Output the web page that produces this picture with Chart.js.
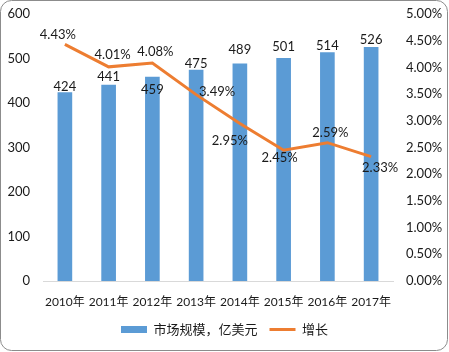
<!DOCTYPE html>
<html><head><meta charset="utf-8">
<script src="https://cdn.jsdelivr.net/npm/chart.js@4/dist/chart.umd.min.js"></script>
<style>html,body{margin:0;padding:0;background:#fff}#wrap{width:449px;height:352px}</style>
</head><body><div id="wrap"><canvas id="c" width="449" height="352"></canvas></div>
<script>
const categories = ['2010年','2011年','2012年','2013年','2014年','2015年','2016年','2017年'];
const marketSize = [424, 441, 459, 475, 489, 501, 514, 526];
const growth = [4.43, 4.01, 4.08, 3.49, 2.95, 2.45, 2.59, 2.33];
const leftTicks = [0, 100, 200, 300, 400, 500, 600];
const rightTicks = [0, 0.5, 1, 1.5, 2, 2.5, 3, 3.5, 4, 4.5, 5];

const FONT = "Lato, 'Noto Sans CJK SC', sans-serif";
const TXT = '#1a1a1a';

const labelPlugin = {
  id: 'valueLabels',
  afterDatasetsDraw(chart, args, opts) {
    const ctx = chart.ctx;
    ctx.save();
    ctx.font = '13px ' + FONT;
    ctx.fillStyle = TXT;
    ctx.textAlign = 'center';
    ctx.textBaseline = 'middle';
    chart.data.datasets.forEach((ds, di) => {
      const meta = chart.getDatasetMeta(di);
      const offs = opts.offsets[di];
      meta.data.forEach((el, i) => {
        const v = ds.data[i];
        const txt = ds.type === 'line' ? v.toFixed(2) + '%' : String(v);
        ctx.fillText(txt, el.x + offs[i][0], el.y + offs[i][1]);
      });
    });
    ctx.restore();
  }
};

const borderPlugin = {
  id: 'frame',
  afterDraw(chart) {
    const ctx = chart.ctx;
    ctx.save();
    ctx.strokeStyle = '#8c8c8c';
    ctx.lineWidth = 1;
    ctx.beginPath();
    ctx.roundRect(0.5, 0.5, 447, 350, 11);
    ctx.stroke();
    ctx.restore();
  }
};

function fixV(w) {
  return function (s) { s.width = w; s.paddingTop = 0; s.paddingBottom = 0; };
}

new Chart(document.getElementById('c'), {
  data: {
    labels: categories,
    datasets: [
      {
        type: 'bar', label: '市场规模，亿美元', data: marketSize,
        backgroundColor: '#5B9BD5', yAxisID: 'y', order: 2,
        barPercentage: 0.335, categoryPercentage: 1.0, pointStyle: 'rect'
      },
      {
        type: 'line', label: '增长', data: growth,
        borderColor: '#ED7D31', backgroundColor: '#ED7D31', borderWidth: 3,
        pointRadius: 0, tension: 0, yAxisID: 'y1', order: 1, pointStyle: 'line'
      }
    ]
  },
  options: {
    responsive: false, animation: false,
    layout: { padding: { top: 14, left: 0, right: 0, bottom: 6 } },
    scales: {
      x: {
        grid: { display: false },
        border: { display: true, color: '#d9d9d9', width: 1 },
        ticks: { color: TXT, font: { size: 12, family: FONT }, maxRotation: 0, autoSkip: false, padding: 6 },
        afterFit(s) { s.height = 30; }
      },
      y: {
        position: 'left', min: 0, max: 600,
        grid: { display: false }, border: { display: false },
        afterBuildTicks(s) { s.ticks = leftTicks.map(v => ({ value: v })); },
        ticks: { color: TXT, font: { size: 13, family: FONT }, padding: 5 },
        afterFit: fixV(43)
      },
      y1: {
        position: 'right', min: 0, max: 5,
        grid: { display: false }, border: { display: false },
        afterBuildTicks(s) { s.ticks = rightTicks.map(v => ({ value: v })); },
        ticks: { color: TXT, font: { size: 13, family: FONT }, padding: 5, callback: v => v.toFixed(2) + '%' },
        afterFit: fixV(56)
      }
    },
    plugins: {
      legend: {
        position: 'bottom',
        labels: {
          color: TXT, font: { size: 13, family: FONT },
          usePointStyle: true, pointStyleWidth: 26, boxHeight: 7, boxWidth: 26, padding: 12,
          sort: (a, b) => a.datasetIndex - b.datasetIndex
        }
      },
      tooltip: { enabled: false },
      valueLabels: {
        offsets: [
          [[0,-6],[0,-8],[0,13],[0,-6],[0,-14],[0,-11],[0,-6.5],[0,-7]],
          [[-7,-10],[4,-12],[3,-11],[21,-3],[-10,17],[-4,8],[3,-10],[9,11]]
        ]
      }
    }
  },
  plugins: [labelPlugin, borderPlugin]
});
</script></body></html>
